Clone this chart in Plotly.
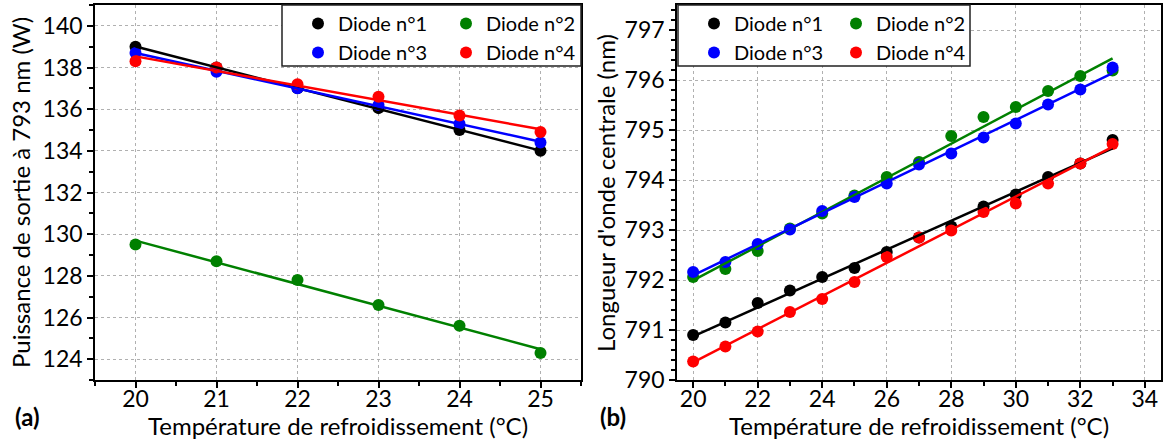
import numpy as np
import plotly.graph_objects as go
from plotly.subplots import make_subplots

# (a) output power vs cooling temperature
temp_a = [20, 21, 22, 23, 24, 25]
power_d1 = [139.0, 138.0, 137.0, 136.05, 135.0, 134.0]
power_d2 = [129.5, 128.7, 127.8, 126.6, 125.6, 124.3]
power_d3 = [138.7, 137.8, 137.0, 136.2, 135.3, 134.4]
power_d4 = [138.3, 138.0, 137.2, 136.6, 135.7, 134.9]

# (b) central wavelength vs cooling temperature
temp_b = [20, 21, 22, 23, 24, 25, 26, 27, 28, 29, 30, 31, 32, 33]
wl_d1 = [790.90, 791.15, 791.54, 791.79, 792.06, 792.24, 792.56, 792.85, 793.07, 793.47, 793.71, 794.06, 794.33, 794.80]
wl_d2 = [792.06, 792.22, 792.58, 793.03, 793.33, 793.69, 794.06, 794.36, 794.88, 795.26, 795.46, 795.78, 796.08, 796.19]
wl_d3 = [792.16, 792.36, 792.72, 793.01, 793.38, 793.66, 793.93, 794.31, 794.53, 794.85, 795.13, 795.51, 795.81, 796.25]
wl_d4 = [790.37, 790.67, 790.97, 791.36, 791.62, 791.96, 792.46, 792.85, 792.99, 793.36, 793.53, 793.93, 794.33, 794.72]

names = ["Diode n°1", "Diode n°2", "Diode n°3", "Diode n°4"]
colors = ["black", "#008000", "#0000ff", "#ff0000"]

W, H = 1163, 439
FONT = "Lato"

def px(x):
    return x / W

def py(y):
    return 1 - y / H

fig = make_subplots(rows=1, cols=2)

panels = [
    (temp_a, [power_d1, power_d2, power_d3, power_d4], 1, ["legend", "legend2"]),
    (temp_b, [wl_d1, wl_d2, wl_d3, wl_d4], 2, ["legend3", "legend4"]),
]

for xs, series, col, legs in panels:
    for i, ys in enumerate(series):
        fig.add_trace(go.Scatter(x=xs, y=ys, mode="markers", name=names[i],
                                 marker=dict(color=colors[i], size=12),
                                 legend=legs[i % 2]), row=1, col=col)
    for i, ys in enumerate(series):
        slope, icpt = np.polyfit(xs, ys, 1)
        xf = np.array([xs[0], xs[-1]])
        fig.add_trace(go.Scatter(x=xf, y=slope * xf + icpt, mode="lines",
                                 line=dict(color=colors[i], width=2.5),
                                 showlegend=False, hoverinfo="skip"), row=1, col=col)

axis_common = dict(showline=True, linecolor="black", linewidth=1.5, mirror=True,
                   ticks="outside", ticklen=6, tickwidth=1.5, tickcolor="black",
                   showgrid=True, gridcolor="#b0b0b0", griddash="dot", gridwidth=1,
                   zeroline=False, tickfont=dict(family=FONT, size=23, color="black"))

fig.update_xaxes(axis_common, ticklabelstandoff=-8)
fig.update_yaxes(axis_common)

dom_y = [py(380), py(5)]
fig.update_xaxes(domain=[px(95), px(581)], range=[19.5, 25.5], dtick=1,
                 minor=dict(dtick=0.5, ticks="outside", ticklen=4, tickcolor="black", showgrid=False),
                 row=1, col=1)
fig.update_yaxes(domain=dom_y, range=[123, 141], dtick=2,
                 minor=dict(dtick=1, ticks="outside", ticklen=4, tickcolor="black", showgrid=False),
                 row=1, col=1)
fig.update_xaxes(domain=[px(677), px(1161)], range=[19.5, 34.5], dtick=2,
                 minor=dict(dtick=1, ticks="outside", ticklen=4, tickcolor="black", showgrid=False),
                 row=1, col=2)
fig.update_yaxes(domain=dom_y, range=[790, 797.5], dtick=1,
                 minor=dict(dtick=0.2, ticks="outside", ticklen=4, tickcolor="black", showgrid=False),
                 row=1, col=2)

# legend boxes
for x0, x1 in [(282, 581), (678, 970)]:
    fig.add_shape(type="rect", xref="paper", yref="paper",
                  x0=px(x0), x1=px(x1), y0=py(66), y1=py(5),
                  line=dict(color="#222222", width=1.5), fillcolor="white", layer="above")

leg_font = dict(family=FONT, size=20, color="black")
leg_pos = {"legend": 298, "legend2": 446, "legend3": 694, "legend4": 836}
legends = {}
for k, x in leg_pos.items():
    legends[k] = dict(x=px(x), y=py(4), xanchor="left", yanchor="top",
                      bgcolor="rgba(0,0,0,0)", borderwidth=0, font=leg_font,
                      itemwidth=30, tracegroupgap=0)

title_font = dict(family=FONT, size=24, color="black")
annots = [
    dict(text="Température de refroidissement (°C)", x=px(338), y=py(425), textangle=0),
    dict(text="Température de refroidissement (°C)", x=px(919), y=py(425), textangle=0),
    dict(text="Puissance de sortie à 793 nm (W)", x=px(20), y=py(193), textangle=-90),
    dict(text="Longueur d'onde centrale (nm)", x=px(605), y=py(193), textangle=-90),
    dict(text="<b>(a)</b>", x=px(27), y=py(416), textangle=0),
    dict(text="<b>(b)</b>", x=px(613), y=py(416), textangle=0),
]
for a in annots:
    fig.add_annotation(xref="paper", yref="paper", xanchor="center", yanchor="middle",
                       showarrow=False, font=title_font, **a)

fig.update_layout(width=W, height=H, margin=dict(l=0, r=0, t=0, b=0, autoexpand=False),
                  paper_bgcolor="white", plot_bgcolor="white",
                  font=dict(family=FONT, color="black"), **legends)

# page body margin would shift the figure by 8 px
fig.write_html("out.html", config={"displayModeBar": False},
               post_script="document.body.style.margin='0';")
